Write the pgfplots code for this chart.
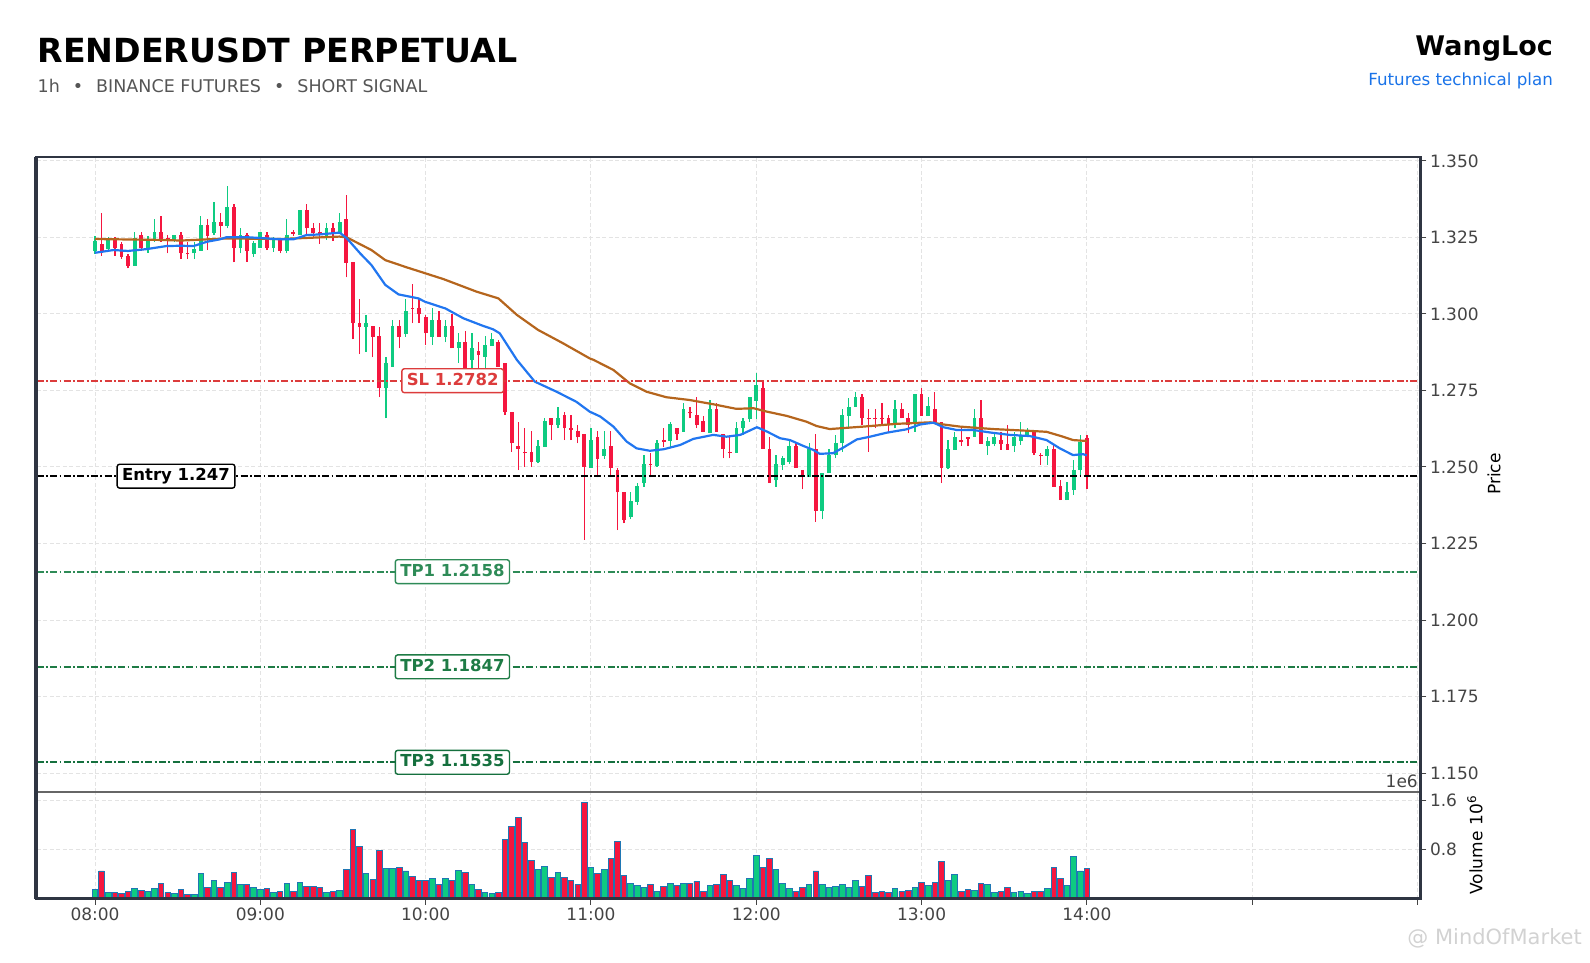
\documentclass[border=0pt]{standalone}
\usepackage{pgfplots}
\pgfplotsset{compat=1.18}
\usepackage{pgfplotstable}
\usepackage{fontspec}
\setmainfont{DejaVu Sans}

\definecolor{cgreen}{HTML}{0ECB81}
\definecolor{cred}{HTML}{F5163F}
\definecolor{edgeblue}{HTML}{1F77B4}
\definecolor{emablue}{HTML}{2176F0}
\definecolor{emabrown}{HTML}{B5651D}
\definecolor{framec}{HTML}{2F3542}
\definecolor{gridc}{HTML}{E3E3E3}
\definecolor{ticklab}{HTML}{444444}
\definecolor{slred}{HTML}{DC3C3C}
\definecolor{tpone}{HTML}{2E8B57}
\definecolor{tptwo}{HTML}{1E7B45}
\definecolor{tpthree}{HTML}{15703E}
\definecolor{subgray}{HTML}{555555}
\definecolor{linkblue}{HTML}{1A73E8}

\pgfplotstableread{
i o h l c v
0 1.3206 1.3255 1.3196 1.3239 0.15
2 1.3212 1.3251 1.3207 1.3244 0.10
6 1.3158 1.3267 1.3158 1.3247 0.17
8 1.3215 1.3256 1.3200 1.3242 0.12
9 1.3242 1.3309 1.3236 1.3269 0.17
12 1.3242 1.3258 1.3236 1.3258 0.08
15 1.3198 1.3236 1.3179 1.3211 0.06
16 1.3206 1.3320 1.3206 1.3291 0.41
18 1.3266 1.3367 1.3258 1.3302 0.30
20 1.3289 1.3418 1.3280 1.3351 0.26
22 1.3217 1.3280 1.3198 1.3258 0.23
24 1.3196 1.3240 1.3187 1.3231 0.18
25 1.3217 1.3269 1.3215 1.3269 0.15
27 1.3217 1.3253 1.3204 1.3244 0.10
29 1.3206 1.3309 1.3198 1.3258 0.25
31 1.3258 1.3340 1.3258 1.3340 0.26
35 1.3253 1.3298 1.3242 1.3280 0.10
37 1.3266 1.3329 1.3266 1.3302 0.13
41 1.2959 1.2997 1.2877 1.2970 0.41
44 1.2757 1.2858 1.2659 1.2841 0.49
45 1.2828 1.2980 1.2828 1.2962 0.49
47 1.2935 1.3048 1.2926 1.3010 0.45
51 1.2926 1.3019 1.2899 1.2980 0.33
53 1.2926 1.2980 1.2907 1.2962 0.32
55 1.2888 1.2937 1.2841 1.2907 0.46
57 1.2850 1.2937 1.2820 1.2888 0.23
59 1.2861 1.2928 1.2822 1.2899 0.10
60 1.2897 1.2937 1.2897 1.2917 0.08
67 1.2517 1.2588 1.2512 1.2569 0.47
68 1.2566 1.2659 1.2566 1.2651 0.52
70 1.2637 1.2697 1.2626 1.2659 0.43
75 1.2498 1.2626 1.2498 1.2588 0.51
77 1.2536 1.2618 1.2526 1.2558 0.47
81 1.2338 1.2417 1.2329 1.2389 0.25
82 1.2387 1.2449 1.2376 1.2438 0.21
83 1.2447 1.2539 1.2436 1.2509 0.18
85 1.2504 1.2588 1.2501 1.2577 0.12
87 1.2586 1.2648 1.2564 1.2641 0.25
89 1.2616 1.2710 1.2616 1.2689 0.25
93 1.2610 1.2719 1.2610 1.2689 0.21
97 1.2547 1.2648 1.2547 1.2627 0.21
98 1.2627 1.2659 1.2605 1.2650 0.17
99 1.2656 1.2728 1.2648 1.2728 0.33
100 1.2717 1.2808 1.2656 1.2768 0.70
103 1.2456 1.2539 1.2436 1.2510 0.48
104 1.2508 1.2535 1.2490 1.2529 0.25
105 1.2517 1.2588 1.2509 1.2569 0.17
108 1.2466 1.2577 1.2466 1.2558 0.23
110 1.2357 1.2479 1.2329 1.2479 0.23
111 1.2479 1.2558 1.2479 1.2539 0.18
112 1.2539 1.2605 1.2528 1.2577 0.20
113 1.2577 1.2688 1.2550 1.2670 0.23
114 1.2668 1.2724 1.2632 1.2697 0.18
115 1.2697 1.2746 1.2697 1.2730 0.29
121 1.2637 1.2719 1.2626 1.2688 0.16
124 1.2643 1.2739 1.2615 1.2739 0.18
126 1.2667 1.2730 1.2667 1.2699 0.22
129 1.2496 1.2588 1.2492 1.2558 0.30
130 1.2556 1.2615 1.2556 1.2599 0.40
133 1.2599 1.2688 1.2599 1.2659 0.13
135 1.2567 1.2599 1.2539 1.2586 0.23
136 1.2575 1.2615 1.2567 1.2599 0.10
139 1.2567 1.2615 1.2550 1.2599 0.10
140 1.2586 1.2648 1.2572 1.2605 0.12
141 1.2605 1.2626 1.2599 1.2621 0.09
144 1.2536 1.2567 1.2507 1.2558 0.17
147 1.2392 1.2452 1.2392 1.2419 0.22
148 1.2425 1.2523 1.2409 1.2490 0.69
149 1.2490 1.2605 1.2468 1.2583 0.45
}\greentab

\pgfplotstableread{
i o h l c v
1 1.3229 1.3329 1.3190 1.3206 0.45
3 1.3242 1.3251 1.3190 1.3216 0.10
4 1.3229 1.3236 1.3180 1.3187 0.09
5 1.3190 1.3196 1.3149 1.3158 0.12
7 1.3258 1.3267 1.3207 1.3216 0.13
10 1.3269 1.3320 1.3236 1.3244 0.25
11 1.3247 1.3258 1.3198 1.3240 0.10
13 1.3258 1.3269 1.3179 1.3198 0.15
14 1.3200 1.3236 1.3179 1.3196 0.07
17 1.3291 1.3309 1.3209 1.3256 0.18
19 1.3302 1.3329 1.3251 1.3289 0.18
21 1.3351 1.3358 1.3169 1.3217 0.43
23 1.3258 1.3264 1.3171 1.3206 0.23
26 1.3258 1.3267 1.3209 1.3217 0.17
28 1.3244 1.3247 1.3198 1.3206 0.12
30 1.3267 1.3274 1.3256 1.3263 0.12
32 1.3340 1.3359 1.3258 1.3280 0.19
33 1.3282 1.3298 1.3253 1.3266 0.19
34 1.3269 1.3298 1.3229 1.3258 0.18
36 1.3280 1.3298 1.3239 1.3266 0.12
38 1.3311 1.3389 1.3120 1.3168 0.48
39 1.3169 1.3169 1.2917 1.2970 1.13
40 1.2970 1.3048 1.2869 1.2959 0.85
42 1.2962 1.2962 1.2858 1.2926 0.31
43 1.2929 1.2959 1.2728 1.2757 0.78
46 1.2962 1.2980 1.2888 1.2926 0.51
48 1.3021 1.3097 1.2970 1.3017 0.36
49 1.3021 1.3051 1.2970 1.2999 0.29
50 1.2991 1.2997 1.2899 1.2937 0.29
52 1.2980 1.3010 1.2926 1.2926 0.23
54 1.2962 1.2999 1.2888 1.2888 0.30
56 1.2907 1.2946 1.2820 1.2820 0.42
58 1.2879 1.2907 1.2820 1.2866 0.15
61 1.2907 1.2915 1.2828 1.2828 0.10
62 1.2839 1.2839 1.2670 1.2679 0.97
63 1.2679 1.2679 1.2550 1.2577 1.17
64 1.2569 1.2648 1.2490 1.2558 1.33
65 1.2549 1.2626 1.2501 1.2545 0.92
66 1.2549 1.2618 1.2501 1.2517 0.62
69 1.2659 1.2659 1.2588 1.2637 0.35
71 1.2670 1.2681 1.2588 1.2626 0.35
72 1.2626 1.2670 1.2588 1.2622 0.30
73 1.2618 1.2637 1.2577 1.2597 0.23
74 1.2608 1.2608 1.2262 1.2501 1.57
76 1.2597 1.2618 1.2466 1.2526 0.41
78 1.2569 1.2618 1.2466 1.2498 0.66
79 1.2490 1.2498 1.2294 1.2417 0.93
80 1.2417 1.2417 1.2316 1.2327 0.37
84 1.2510 1.2545 1.2466 1.2506 0.23
86 1.2587 1.2627 1.2564 1.2583 0.19
88 1.2627 1.2627 1.2588 1.2607 0.21
90 1.2679 1.2697 1.2659 1.2675 0.25
91 1.2670 1.2730 1.2627 1.2637 0.28
92 1.2650 1.2667 1.2616 1.2616 0.12
94 1.2689 1.2710 1.2616 1.2616 0.23
95 1.2608 1.2608 1.2528 1.2558 0.40
96 1.2550 1.2599 1.2528 1.2546 0.29
101 1.2757 1.2782 1.2558 1.2558 0.51
102 1.2558 1.2597 1.2447 1.2447 0.66
106 1.2569 1.2577 1.2498 1.2498 0.12
107 1.2490 1.2490 1.2427 1.2466 0.18
109 1.2558 1.2608 1.2321 1.2357 0.45
116 1.2730 1.2739 1.2637 1.2659 0.19
117 1.2660 1.2688 1.2550 1.2656 0.37
118 1.2660 1.2688 1.2626 1.2656 0.10
119 1.2660 1.2708 1.2637 1.2656 0.12
120 1.2659 1.2670 1.2615 1.2637 0.10
122 1.2688 1.2708 1.2659 1.2659 0.11
123 1.2659 1.2675 1.2610 1.2637 0.13
125 1.2739 1.2757 1.2667 1.2667 0.26
127 1.2688 1.2746 1.2648 1.2648 0.26
128 1.2648 1.2648 1.2447 1.2496 0.61
131 1.2587 1.2626 1.2569 1.2583 0.12
132 1.2597 1.2599 1.2567 1.2593 0.15
134 1.2659 1.2719 1.2575 1.2575 0.25
137 1.2588 1.2615 1.2556 1.2575 0.12
138 1.2575 1.2637 1.2556 1.2556 0.18
142 1.2615 1.2621 1.2539 1.2547 0.12
143 1.2540 1.2545 1.2507 1.2536 0.11
145 1.2558 1.2572 1.2436 1.2436 0.51
146 1.2438 1.2458 1.2392 1.2392 0.32
150 1.2595 1.2605 1.2428 1.2467 0.49
}\redtab

\tikzset{
  lab/.style={fill=white, rounded corners=2.5pt, line width=1.4pt,
    inner xsep=5pt, inner ysep=4pt, text height=12.3pt, text depth=3.6pt,
    font=\bfseries\fontsize{16.5}{19}\selectfont},
  lvl/.style={line width=1.8pt, dash pattern=on 7pt off 2.4pt on 1.8pt off 2.4pt},
}
\pgfplotsset{
  chartbase/.style={
    scale only axis, width=1384pt,
    xmin=-8.85, xmax=200.45,
    axis line style={draw=none},
    xmajorgrids, ymajorgrids,
    grid style={gridc, line width=1pt, dash pattern=on 4pt off 2.5pt},
    xtick={0,25,...,200},
    ytick pos=right, yticklabel pos=right,
    tick align=outside, major tick length=6pt,
    tick style={color=ticklab, line width=1pt},
    tick label style={font=\fontsize{17}{20}\selectfont, color=ticklab},
    /pgf/number format/assume math mode=true,
  },
  candle/.style={draw=none, mark=none, forget plot,
    error bars/y dir=plus, error bars/y explicit, error bars/error mark=none},
}

\begin{document}
\begin{tikzpicture}
\useasboundingbox (0pt,0pt) rectangle (1590pt,-962pt);

% header
\node[anchor=base west, inner sep=0pt, font=\bfseries\fontsize{33.2}{40}\selectfont] at (37.5pt,-62pt) {RENDERUSDT PERPETUAL};
\node[anchor=base west, inner sep=0pt, text=subgray, font=\fontsize{17.5}{21}\selectfont] at (37.5pt,-92pt) {1h\hspace{13pt}•\hspace{13pt}BINANCE FUTURES\hspace{13pt}•\hspace{13pt}SHORT SIGNAL};
\node[anchor=base east, inner sep=0pt, font=\bfseries\fontsize{27}{32}\selectfont] at (1553pt,-55pt) {WangLoc};
\node[anchor=base east, inner sep=0pt, text=linkblue, font=\fontsize{16.7}{20}\selectfont] at (1553pt,-85pt) {Futures technical plan};

% price panel
\begin{axis}[chartbase,
  at={(36.5pt,-792pt)}, anchor=south west, height=635pt,
  ymin=1.14379, ymax=1.3513,
  ytick={1.150,1.175,...,1.351},
  yticklabel style={/pgf/number format/.cd, fixed, fixed zerofill, precision=3},
  xticklabels={}, xtick style={draw=none},
]
% wicks
\addplot[candle, error bars/error bar style={draw=cgreen, line width=1.3pt, solid}]
  table[x=i, y=l, y error plus expr=\thisrow{h}-\thisrow{l}] {\greentab};
\addplot[candle, error bars/error bar style={draw=cred, line width=1.3pt, solid}]
  table[x=i, y=l, y error plus expr=\thisrow{h}-\thisrow{l}] {\redtab};
% bodies
\addplot[candle, error bars/error bar style={draw=cgreen, line width=3.8pt, solid}]
  table[x=i, y=o, y error plus expr=\thisrow{c}-\thisrow{o}] {\greentab};
\addplot[candle, error bars/error bar style={draw=cred, line width=3.8pt, solid}]
  table[x=i, y=c, y error plus expr=\thisrow{o}-\thisrow{c}] {\redtab};

% EMAs
\addplot[emabrown, line width=2.2pt, line join=round, mark=none] coordinates {
(0,1.3245) (10,1.3242) (13,1.3240) (20,1.3247) (28,1.3245) (37,1.3253) (38.1,1.3250)
(41.8,1.3209) (43.9,1.3176) (47.2,1.3152) (52.7,1.3114) (57.7,1.3073) (61,1.3051)
(63.8,1.2997) (67,1.2948) (70.8,1.2904) (74.8,1.2855) (75.4,1.2850) (78.4,1.2817)
(80.9,1.2773) (83.4,1.2746) (86.4,1.2728) (89.9,1.2719) (93.5,1.2705) (97,1.2690)
(99.6,1.2692) (101.6,1.2681) (104.6,1.2667) (107.6,1.2648) (109.1,1.2634) (111.1,1.2624)
(116.2,1.2632) (121.2,1.2641) (126.3,1.2646) (128.3,1.2639) (130.8,1.2632) (135.8,1.2624)
(141.4,1.2618) (143.9,1.2615) (146.4,1.2599) (147.9,1.2588) (150,1.2585)};
\addplot[emablue, line width=2.2pt, line join=round, mark=none] coordinates {
(0,1.3200) (2.8,1.3209) (5,1.3206) (7.8,1.3212) (10.8,1.3222) (12.9,1.3223) (14.9,1.3222)
(16.9,1.3236) (18.9,1.3244) (19.9,1.3251) (22.9,1.3251) (26,1.3247) (28,1.3244) (30,1.3244)
(32,1.3258) (34,1.3260) (36,1.3264) (37,1.3266) (38.1,1.3247) (40.1,1.3198) (41.8,1.3160)
(43.9,1.3095) (45.9,1.3064) (48.9,1.3051) (49.9,1.3040) (53,1.3018) (55.7,1.2986)
(58.7,1.2961) (60.2,1.2950) (61.2,1.2937) (63.8,1.2850) (66.5,1.2779) (69.8,1.2746)
(72.8,1.2713) (74.8,1.2681) (76.4,1.2665) (78.4,1.2632) (80.4,1.2583) (81.9,1.2561)
(83.9,1.2553) (86,1.2558) (88.5,1.2572) (90.5,1.2592) (93.5,1.2605) (95.5,1.2599)
(97.6,1.2605) (100.1,1.2630) (101.6,1.2616) (103.6,1.2594) (105.1,1.2588) (107.1,1.2569)
(108.6,1.2556) (109.6,1.2543) (111.6,1.2545) (113.2,1.2564) (115.2,1.2590) (117.2,1.2599)
(119.7,1.2612) (122.7,1.2623) (124.8,1.2639) (126.8,1.2645) (128.3,1.2630) (130.3,1.2621)
(132.8,1.2621) (135.3,1.2613) (138.3,1.2605) (141.4,1.2601) (143.9,1.2588) (145.9,1.2561)
(147.9,1.2539) (149.4,1.2542) (150,1.2538)};

% levels
\addplot[slred, lvl, mark=none] coordinates {(-8.85,1.2782) (200.45,1.2782)};
\addplot[black, lvl, mark=none] coordinates {(-8.85,1.247) (200.45,1.247)};
\addplot[tpone, lvl, mark=none] coordinates {(-8.85,1.2158) (200.45,1.2158)};
\addplot[tptwo, lvl, mark=none] coordinates {(-8.85,1.1847) (200.45,1.1847)};
\addplot[tpthree, lvl, mark=none] coordinates {(-8.85,1.1535) (200.45,1.1535)};

\node[lab, draw=slred, text=slred] at (axis cs:54.1,1.2782) {SL 1.2782};
\node[lab, draw=black, text=black] at (axis cs:12.25,1.247) {Entry 1.247};
\node[lab, draw=tpone, text=tpone] at (axis cs:54.05,1.2158) {TP1 1.2158};
\node[lab, draw=tptwo, text=tptwo] at (axis cs:54.05,1.1847) {TP2 1.1847};
\node[lab, draw=tpthree, text=tpthree] at (axis cs:54.05,1.1535) {TP3 1.1535};
\end{axis}

% volume panel
\begin{axis}[chartbase,
  at={(36.5pt,-898.5pt)}, anchor=south west, height=106.5pt,
  ymin=0, ymax=1.739,
  ytick={0.8,1.6}, yticklabels={0.8,1.6},
  scaled y ticks=false,
  xtick pos=bottom,
  xticklabels={08:00,09:00,10:00,11:00,12:00,13:00,14:00,{},{}},
]
\addplot[ybar, bar width=0.84, bar shift=0pt, fill=cgreen, draw=edgeblue, line width=0.9pt]
  table[x=i, y=v] {\greentab};
\addplot[ybar, bar width=0.84, bar shift=0pt, fill=cred, draw=edgeblue, line width=0.9pt]
  table[x=i, y=v] {\redtab};
\end{axis}

% frame
\draw[gray!80!black, line width=1.3pt] (36.5pt,-792pt) -- (1420.5pt,-792pt);
\draw[framec, line width=2.2pt] (36.5pt,-157pt) rectangle (1420.5pt,-898.5pt);
\draw[framec, line width=1pt] (34pt,-157pt) -- (34pt,-898.5pt);

% axis titles
\node[rotate=90, inner sep=0pt, font=\fontsize{17}{20}\selectfont] at (1494pt,-474pt) {Price};
\node[rotate=90, inner sep=0pt, font=\fontsize{17}{20}\selectfont] at (1475pt,-845pt) {Volume\hspace{6pt}10\textsuperscript{6}};
\node[anchor=base east, inner sep=0pt, text=ticklab, font=\fontsize{17}{20}\selectfont] at (1418pt,-787pt) {1e6};

% watermark
\node[anchor=east, inner sep=0pt, text=gray!35, font=\fontsize{21}{24}\selectfont] at (1582pt,-938pt) {@ MindOfMarket};
\end{tikzpicture}
\end{document}
